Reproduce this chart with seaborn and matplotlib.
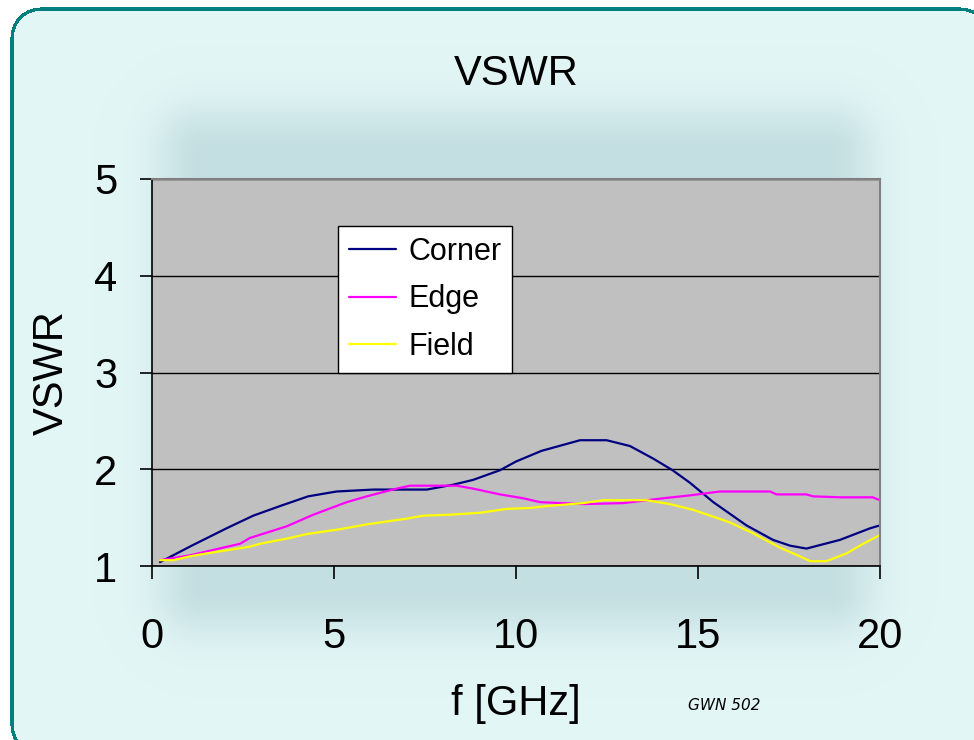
import numpy as np
import pandas as pd
import matplotlib
matplotlib.use("Agg")
import matplotlib.pyplot as plt
import seaborn as sns

# ---- data ----
corner_f = [0.22, 1.09, 2.05, 2.78, 3.52, 4.29, 5.07, 6.08, 7.55, 8.27, 8.82, 9.56, 10.0, 10.7,
            11.76, 12.49, 13.13, 13.77, 14.3, 14.78, 15.42, 16.33, 17.06, 17.53, 17.98, 18.9, 19.73, 20.0]
corner_v = [1.04, 1.21, 1.39, 1.52, 1.62, 1.72, 1.77, 1.79, 1.79, 1.84, 1.89, 1.99, 2.08, 2.19,
            2.30, 2.30, 2.24, 2.11, 1.99, 1.86, 1.66, 1.42, 1.27, 1.21, 1.18, 1.27, 1.39, 1.42]

edge_f = [0.22, 1.04, 2.42, 2.69, 3.7, 4.43, 5.35, 5.9, 6.72, 7.09, 8.37, 8.82, 9.56, 10.2, 10.66,
          11.85, 12.95, 14.04, 14.78, 15.6, 16.98, 17.16, 17.98, 18.16, 18.9, 19.8, 20.0]
edge_v = [1.06, 1.11, 1.23, 1.29, 1.41, 1.53, 1.66, 1.72, 1.80, 1.83, 1.83, 1.80, 1.74, 1.70, 1.66,
          1.64, 1.65, 1.70, 1.73, 1.77, 1.77, 1.74, 1.74, 1.72, 1.71, 1.71, 1.68]

field_f = [0.22, 0.58, 1.04, 1.5, 2.69, 2.97, 3.79, 4.25, 5.16, 5.9, 7.0, 7.45, 8.19, 9.0, 9.74, 10.4,
           10.85, 11.85, 12.4, 13.59, 14.23, 14.87, 15.42, 15.88, 16.5, 17.25, 17.8, 18.08, 18.53,
           19.08, 19.54, 20.0]
field_v = [1.06, 1.06, 1.10, 1.13, 1.20, 1.23, 1.29, 1.33, 1.38, 1.43, 1.49, 1.52, 1.53, 1.55, 1.59, 1.60,
           1.62, 1.65, 1.68, 1.68, 1.64, 1.58, 1.51, 1.45, 1.34, 1.19, 1.10, 1.05, 1.05,
           1.13, 1.23, 1.32]

series_names = ["Corner", "Edge", "Field"]
series_colors = ["#000080", "#FF00FF", "#FFFF00"]
x_ticks = [0, 5, 10, 15, 20]
y_ticks = [1, 2, 3, 4, 5]

df = pd.concat([
    pd.DataFrame({"f": corner_f, "VSWR": corner_v, "series": "Corner"}),
    pd.DataFrame({"f": edge_f, "VSWR": edge_v, "series": "Edge"}),
    pd.DataFrame({"f": field_f, "VSWR": field_v, "series": "Field"}),
], ignore_index=True)

sns.set_theme(style="white")
plt.rcParams["font.family"] = ["Liberation Sans", "DejaVu Sans"]
plt.rcParams["text.color"] = "black"
plt.rcParams["axes.labelcolor"] = "black"
plt.rcParams["xtick.color"] = "black"
plt.rcParams["ytick.color"] = "black"

W, H = 974, 740
fig = plt.figure(figsize=(W / 100, H / 100), dpi=100)
fig.patch.set_facecolor("white")

# ---- background panel (pixel image): rounded teal frame + soft halo ----
yy, xx = np.mgrid[0:H, 0:W].astype(float)
cx0, cx1, cy0, cy1 = 200, 830, 150, 590
dx = np.maximum(np.maximum(cx0 - xx, xx - cx1), 0)
dy = np.maximum(np.maximum(cy0 - yy, yy - cy1), 0)
shade = np.exp(-((dx ** 2 + dy ** 2) / 45.0 ** 2))
light = np.array([0.89, 0.965, 0.965])
dark = np.array([0.77, 0.875, 0.885])
img = light[None, None, :] * (1 - shade[..., None]) + dark[None, None, :] * shade[..., None]
# rounded rectangle signed distance
bx0, by0, bx1, by1, rad = 10.0, 7.0, 990.0, 755.0, 30.0
mx, my = (bx0 + bx1) / 2, (by0 + by1) / 2
hx, hy = (bx1 - bx0) / 2 - rad, (by1 - by0) / 2 - rad
qx = np.maximum(np.abs(xx - mx) - hx, 0)
qy = np.maximum(np.abs(yy - my) - hy, 0)
inner = np.minimum(np.maximum(np.abs(xx - mx) - hx, np.abs(yy - my) - hy), 0)
sd = np.sqrt(qx ** 2 + qy ** 2) + inner - rad
white = np.array([1.0, 1.0, 1.0])
teal = np.array([0.0, 0.5, 0.5])
img[sd > 0] = white
img[(sd <= 0) & (sd > -3.5)] = teal
fig.figimage(img, xo=0, yo=0, origin="upper", zorder=-10)

# ---- main plot ----
ax = fig.add_axes([152 / W, 1 - 566 / H, (880 - 152) / W, (566 - 179) / H])
ax.set_facecolor("#C0C0C0")
sns.lineplot(data=df, x="f", y="VSWR", hue="series", hue_order=series_names,
             palette=series_colors, linewidth=1.6, ax=ax, legend=True, sort=False)
ax.set_xlim(0, 20)
ax.set_ylim(1, 5)
ax.set_xticks(x_ticks)
ax.set_yticks(y_ticks)
ax.set_xticklabels([str(v) for v in x_ticks])
ax.set_yticklabels([str(v) for v in y_ticks])
ax.yaxis.grid(True, color="black", linewidth=1.0)
ax.xaxis.grid(False)
ax.set_axisbelow(True)
for s in ["left", "bottom"]:
    ax.spines[s].set_color("black")
    ax.spines[s].set_linewidth(1.2)
for s in ["top", "right"]:
    ax.spines[s].set_color("#808080")
    ax.spines[s].set_linewidth(1.5)
ax.tick_params(axis="both", direction="out", length=9, width=1.2, color="black",
               labelsize=30, labelcolor="black", left=True, bottom=True)
ax.tick_params(axis="x", pad=28)
ax.tick_params(axis="y", pad=16)
ax.set_xlabel("f [GHz]", fontsize=30, labelpad=19, color="black")
ax.set_ylabel("VSWR", fontsize=30, labelpad=16, color="black")
ax.set_title("VSWR", fontsize=30, pad=68, color="black")

leg = ax.legend(loc="upper left", bbox_to_anchor=((338 - 152) / 728, (566 - 226) / 387),
                frameon=True, fancybox=False, fontsize=22, handlelength=1.55,
                handletextpad=0.4, borderpad=0.35, labelspacing=0.58, borderaxespad=0)
leg.get_frame().set_edgecolor("black")
leg.get_frame().set_linewidth(1.0)
leg.get_frame().set_facecolor("white")
leg.get_frame().set_alpha(1)
for t in leg.get_texts():
    t.set_color("black")

fig.text(724 / W, 1 - 706 / H, "GWN 502", fontsize=11, style="italic",
         family=["DejaVu Sans"], ha="center", va="center", color="black")

fig.savefig("out.png", dpi=100)
